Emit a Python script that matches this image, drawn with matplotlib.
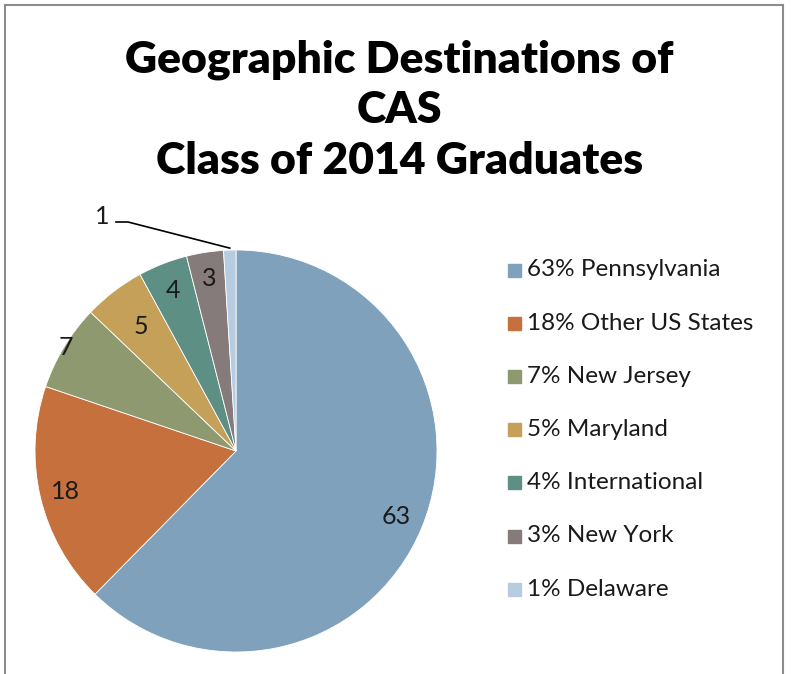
import numpy as np
import matplotlib.pyplot as plt
from matplotlib.lines import Line2D
from matplotlib.patches import Rectangle

# dades
categories = ['Pennsylvania', 'Other US States', 'New Jersey', 'Maryland',
              'International', 'New York', 'Delaware']
valors = [63, 18, 7, 5, 4, 3, 1]
percent = [63, 18, 7, 5, 4, 3, 1]
colors = ['#7FA1BC', '#C6703E', '#8F9970', '#C4A058', '#5E8F85', '#857B7B', '#B7CCE1']
titol = 'Geographic Destinations of\nCAS\nClass of 2014 Graduates'

W, H = 791, 674
fig = plt.figure(figsize=(W / 100, H / 100), dpi=100)
ax = fig.add_axes([0, 0, 1, 1])

# vora del gràfic
fig.add_artist(Line2D([5 / W, 5 / W], [0, 1 - 5 / H], color='#8C8C8C', lw=1.5))
fig.add_artist(Line2D([5 / W, 783 / W], [1 - 5 / H, 1 - 5 / H], color='#8C8C8C', lw=1.5))
fig.add_artist(Line2D([783 / W, 783 / W], [0, 1 - 5 / H], color='#8C8C8C', lw=1.5))

cx, cy, R = 236, H - 451, 201
wedges, _ = ax.pie(valors, colors=colors, startangle=90, counterclock=False,
                   center=(cx, cy), radius=R, frame=True,
                   wedgeprops=dict(edgecolor='white', linewidth=0.6))
ax.set_xlim(0, W)
ax.set_ylim(0, H)
ax.set_aspect('equal')
ax.axis('off')

font = 'Lato'
dist = [0.86, 0.87, 0.99, 0.78, 0.86, 0.87]
for w, v, d in zip(wedges[:-1], valors[:-1], dist):
    ang = np.radians((w.theta1 + w.theta2) / 2)
    ax.text(cx + d * R * np.cos(ang), cy + d * R * np.sin(ang), str(v),
            ha='center', va='center', fontsize=18, family=font, color='#1a1a1a')

# etiqueta de l'últim sector amb línia guia
w = wedges[-1]
ang = np.radians((w.theta1 + w.theta2) / 2)
px, py = cx + R * np.cos(ang), cy + R * np.sin(ang)
ax.plot([px, 128, 116], [py + 2, H - 222, H - 222], color='black', lw=1.2)
ax.text(109, H - 217, str(valors[-1]), ha='right', va='center', fontsize=18,
        family=font, color='#1a1a1a')

# títol
fig.text(0.5 + 0.005, 1 - 110 / H, titol, ha='center', va='center',
         fontsize=32, fontweight='heavy', family=font, linespacing=1.32)

# llegenda
for i, (c, p, cat) in enumerate(zip(colors, percent, categories)):
    y = H - (270 + i * 53.2)
    ax.add_patch(Rectangle((508, y - 6.5), 13, 13, color=c))
    ax.text(527, y, f'{p}% {cat}', ha='left', va='center', fontsize=17.5,
            family=font, color='#1a1a1a')

fig.savefig('out.png', dpi=100)
